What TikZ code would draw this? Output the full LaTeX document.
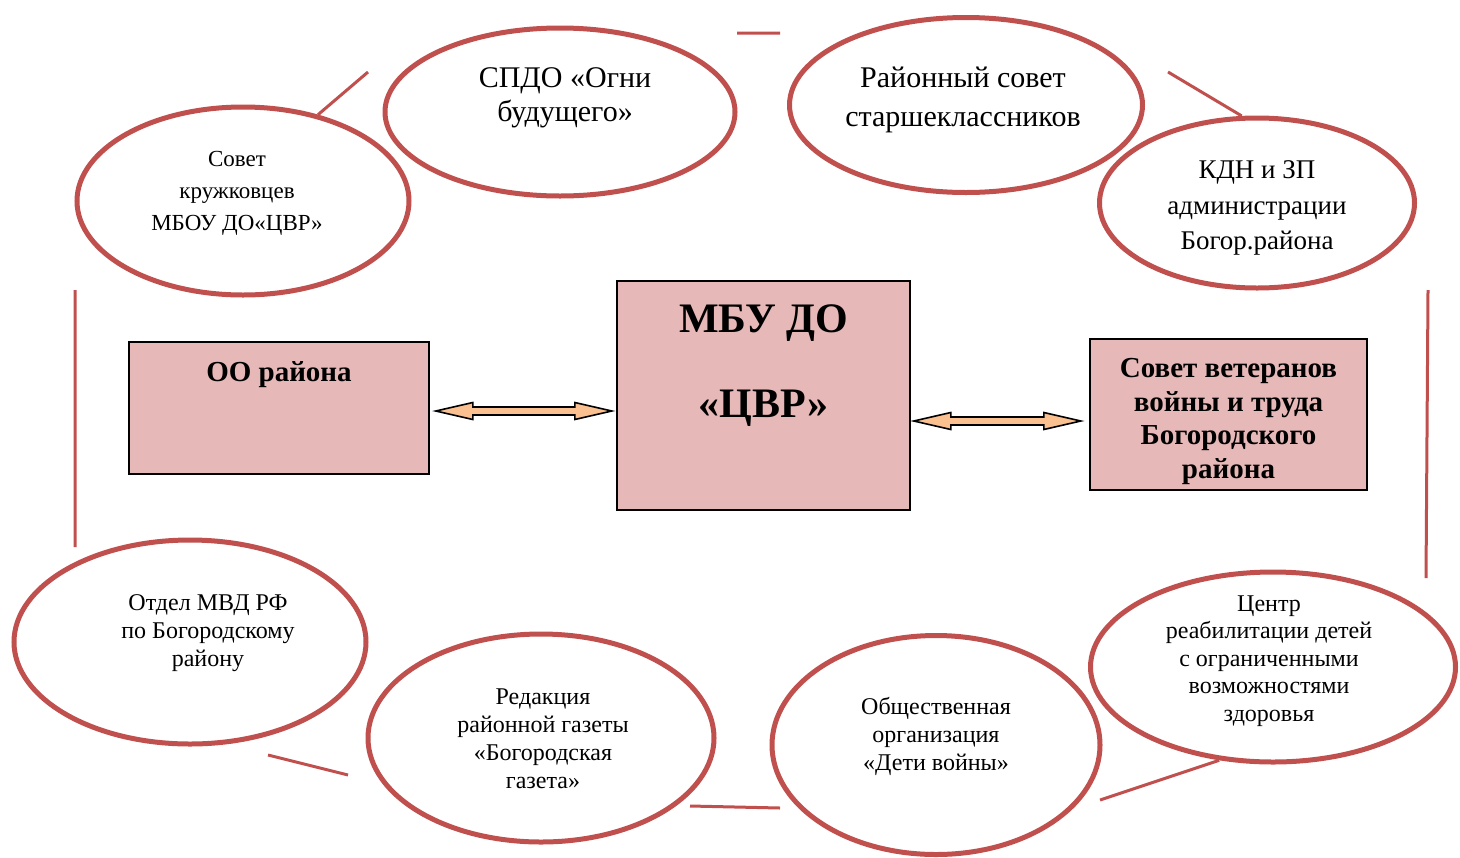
\documentclass[tikz,border=0pt]{standalone}
\usepackage{fontspec}
\setmainfont{Liberation Serif}
\usetikzlibrary{shapes.geometric,positioning}
\definecolor{ringred}{HTML}{C0504D}
\definecolor{boxpink}{HTML}{E6B8B7}
\definecolor{arrowtan}{HTML}{FAC090}
% fat double arrow: start point, overall length (px)
\newcommand{\fatarrow}[2]{%
  \draw[both] (#1) -- ++(37,-8.5) -- ++(0,4.5) -- ++(#2-74,0) -- ++(0,-4.5)
    -- ++(37,8.5) -- ++(-37,8.5) -- ++(0,-4.5) -- ++(74-#2,0)
    -- ++(0,4.5) -- cycle;}

\begin{document}
\begin{tikzpicture}[%
    x=0.5pt, y=-0.5pt,
    partner/.style={ellipse, draw=ringred, line width=2.5pt, fill=white,
      inner sep=0pt},
    org/.style={rectangle, draw=black, line width=0.8pt, fill=boxpink,
      inner sep=0pt, align=center},
    link/.style={draw=ringred, line width=1.5pt},
    both/.style={draw=black, line width=0.8pt, fill=arrowtan, line join=miter},
    every label/.style={align=center, inner sep=0pt}
  ]
    \useasboundingbox (0,0) rectangle (1460,857);

    % free ends of the red links
    \coordinate (t1) at (368,72);
    \coordinate (t2a) at (737,33);
    \coordinate (t2b) at (780,33);
    \coordinate (t3) at (1168,72);
    \coordinate (l1) at (75,290);
    \coordinate (l2) at (75,547);
    \coordinate (r1) at (1428,290);
    \coordinate (r2) at (1426,578);
    \coordinate (b1a) at (268,755);
    \coordinate (b1b) at (348,775);
    \coordinate (b2a) at (690,806);
    \coordinate (b2b) at (780,808);
    \coordinate (b3) at (1100,800);

    % partners
    \node[partner, minimum width=166pt, minimum height=94pt,
      label={[shift={(-6,-8)}, font=\fontsize{11.5}{16}\selectfont]center:
        Совет\\кружковцев\\МБОУ ДО«ЦВР»}] (kruzh) at (243,201) {};
    \node[partner, minimum width=175pt, minimum height=84pt,
      label={[shift={(5,-14)}, font=\fontsize{15}{17}\selectfont]center:
        СПДО «Огни\\будущего»}] (spdo) at (560,112) {};
    \node[partner, minimum width=176.5pt, minimum height=87.5pt,
      label={[shift={(-3,-5)}, font=\fontsize{15}{19.5}\selectfont]center:
        Районный совет\\старшеклассников}] (rss) at (966,105) {};
    \node[partner, minimum width=157.5pt, minimum height=85pt,
      label={[shift={(0,5)}, font=\fontsize{13.5}{17.8}\selectfont]center:
        КДН и ЗП\\администрации\\Богор.района}] (kdn) at (1257,203) {};
    \node[partner, minimum width=176pt, minimum height=102pt,
      label={[shift={(18,-9)}, font=\fontsize{12}{14}\selectfont]center:
        Отдел МВД РФ\\по Богородскому\\району}] (mvd) at (190,642) {};
    \node[partner, minimum width=173pt, minimum height=104pt,
      label={[shift={(2,1)}, font=\fontsize{12}{14}\selectfont]center:
        Редакция\\районной газеты\\«Богородская\\газета»}] (gazeta) at (541,738) {};
    \node[partner, minimum width=164pt, minimum height=109.5pt,
      label={[shift={(0,-9)}, font=\fontsize{12}{14}\selectfont]center:
        Общественная\\организация\\«Дети войны»}] (deti) at (936,745) {};
    \node[partner, minimum width=182.5pt, minimum height=95pt,
      label={[shift={(-4,-6)}, font=\fontsize{12}{13.8}\selectfont]center:
        Центр\\реабилитации детей\\с ограниченными\\возможностями\\здоровья}]
      (centr) at (1273,667) {};

    % red links
    \path[link] (kruzh.49) -- (t1)
                (t2a) -- (t2b)
                (t3) -- (kdn.100)
                (l1) -- (l2)
                (r1) -- (r2)
                (b1a) -- (b1b)
                (b2a) -- (b2b)
                (b3) -- (centr.240);

    % organisations
    \node[org, minimum width=150pt, minimum height=66pt,
      label={[anchor=north, yshift=-10pt,
        font=\fontsize{14.5}{17}\selectfont\bfseries]north:ОО района}]
      (oo) at (279,408) {};
    \node[org, minimum width=146.5pt, minimum height=114.5pt,
      label={[anchor=north, yshift=-12pt,
        font=\fontsize{21}{42.5}\selectfont\bfseries]north:МБУ ДО\\«ЦВР»}]
      (mbu) at (763.5,395.5) {};
    \node[org, minimum width=138.5pt, minimum height=75.5pt,
      label={[shift={(0,7)}, font=\fontsize{14.5}{16.8}\selectfont\bfseries]center:
        Совет ветеранов\\войны и труда\\Богородского\\района}]
      (veter) at (1228.5,414.5) {};

    % double arrows
    \coordinate (a1) at ([xshift=3pt]oo.east |- 0,411);
    \coordinate (a2) at ([xshift=1.5pt]mbu.east |- 0,421);
    \fatarrow{a1}{176}
    \fatarrow{a2}{167}
\end{tikzpicture}
\end{document}
